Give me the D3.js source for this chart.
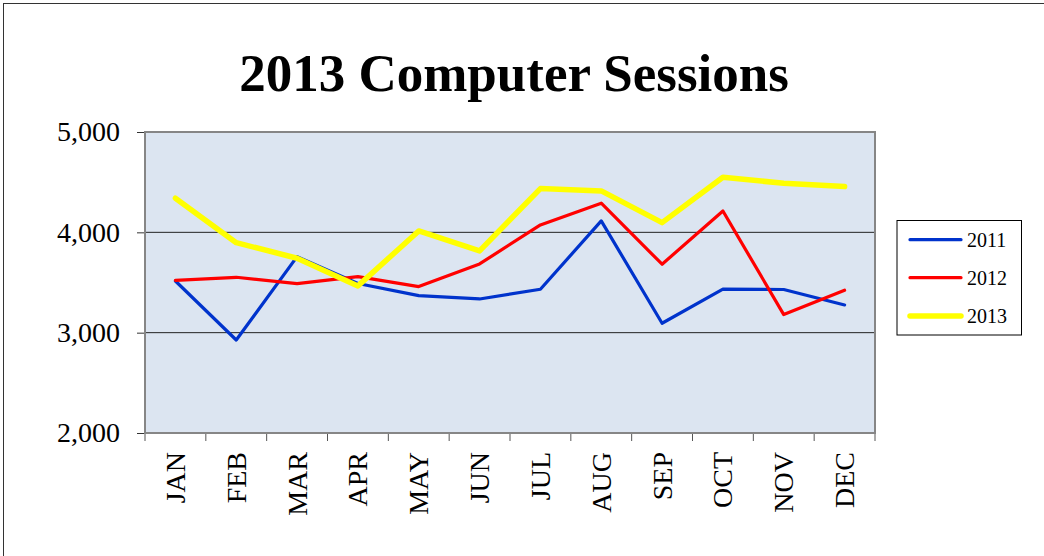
<!DOCTYPE html>
<html><head><meta charset="utf-8">
<script src="https://cdn.jsdelivr.net/npm/d3@7"></script>
<style>html,body{margin:0;padding:0;background:#fff;}svg{display:block;}</style>
</head><body>
<svg id="chart" width="1044" height="556"></svg>
<script>
const title = "2013 Computer Sessions";
const months = ["JAN","FEB","MAR","APR","MAY","JUN","JUL","AUG","SEP","OCT","NOV","DEC"];
const seriesNames = ["2011","2012","2013"];
const values2011 = [3515,2927,3758,3490,3369,3336,3433,4114,3094,3433,3430,3276];
const values2012 = [3522,3552,3489,3558,3459,3685,4074,4290,3682,4213,3180,3423];
const values2013 = [4340,3897,3742,3466,4014,3815,4436,4413,4097,4549,4489,4456];
const yTicks = [2000,3000,4000,5000];
const colors = ["#0033CC","#FF0000","#FFFF00"];
const widths = [3.2,3.2,5.5];

const svg = d3.select("#chart");
const serif = "'Liberation Serif','Times New Roman',serif";
const L=145, R=875, T=132, B=433;

// outer frame
svg.append("rect").attr("x",3.5).attr("y",3.5).attr("width",1100).attr("height",600)
  .attr("fill","none").attr("stroke","#333").attr("stroke-width",1);

svg.append("text").attr("x",514).attr("y",91).attr("text-anchor","middle")
  .attr("font-family",serif).attr("font-weight","bold").attr("font-size",53)
  .text(title);

const x = d3.scaleBand().domain(months).range([L,R]);
const y = d3.scaleLinear().domain([2000,5000]).range([B,T]);

svg.append("rect").attr("x",L).attr("y",T).attr("width",R-L).attr("height",B-T)
  .attr("fill","#DCE5F1");

// gridlines
svg.append("g").selectAll("line").data(yTicks.filter(d=>d>2000&&d<5000)).join("line")
  .attr("x1",L).attr("x2",R).attr("y1",d=>y(d)).attr("y2",d=>y(d))
  .attr("stroke","#222").attr("stroke-width",1);

// y axis
const yAxis = svg.append("g").attr("transform",`translate(${L},0)`)
  .call(d3.axisLeft(y).tickValues(yTicks).tickSize(8).tickPadding(17).tickFormat(d3.format(",")));
yAxis.select(".domain").remove();
yAxis.selectAll(".tick line").attr("stroke","#333");
yAxis.selectAll("text").attr("font-family",serif).attr("font-size",28).attr("fill","#000");

// x axis
const xAxis = svg.append("g").attr("transform",`translate(0,${B})`)
  .call(d3.axisBottom(x).tickSize(0).tickPadding(0));
xAxis.select(".domain").remove();
xAxis.selectAll(".tick text").attr("font-family",serif).attr("font-size",28).attr("fill","#000")
  .attr("transform","rotate(-90)").attr("text-anchor","end").attr("x",-19).attr("y",0).attr("dy","0.34em");
const bounds = months.map(m=>x(m)).concat([R]);
svg.append("g").selectAll("line").data(bounds).join("line")
  .attr("x1",d=>d).attr("x2",d=>d).attr("y1",B).attr("y2",B+8)
  .attr("stroke","#555").attr("stroke-width",1);

// plot border
svg.append("rect").attr("x",L).attr("y",T).attr("width",R-L).attr("height",B-T)
  .attr("fill","none").attr("stroke","#868686").attr("stroke-width",2);

const allSeries = [values2011, values2012, values2013];
const line = d3.line().x((d,i)=>x(months[i])+x.bandwidth()/2).y(d=>y(d));
allSeries.forEach((vals,k)=>{
  svg.append("path").datum(vals).attr("d",line).attr("fill","none")
    .attr("stroke",colors[k]).attr("stroke-width",widths[k])
    .attr("stroke-linejoin","round").attr("stroke-linecap","round");
});

// legend
const lg = svg.append("g");
lg.append("rect").attr("x",897).attr("y",220.5).attr("width",124.5).attr("height",114.5)
  .attr("fill","#fff").attr("stroke","#000").attr("stroke-width",1);
const rowsY = [239.7,277.7,316];
seriesNames.forEach((n,k)=>{
  lg.append("line").attr("x1",910).attr("x2",961).attr("y1",rowsY[k]).attr("y2",rowsY[k])
    .attr("stroke",colors[k]).attr("stroke-width",widths[k]).attr("stroke-linecap","round");
  lg.append("text").attr("x",967).attr("y",rowsY[k]).attr("dy","0.35em")
    .attr("font-family",serif).attr("font-size",20).text(n);
});
</script>
</body></html>
